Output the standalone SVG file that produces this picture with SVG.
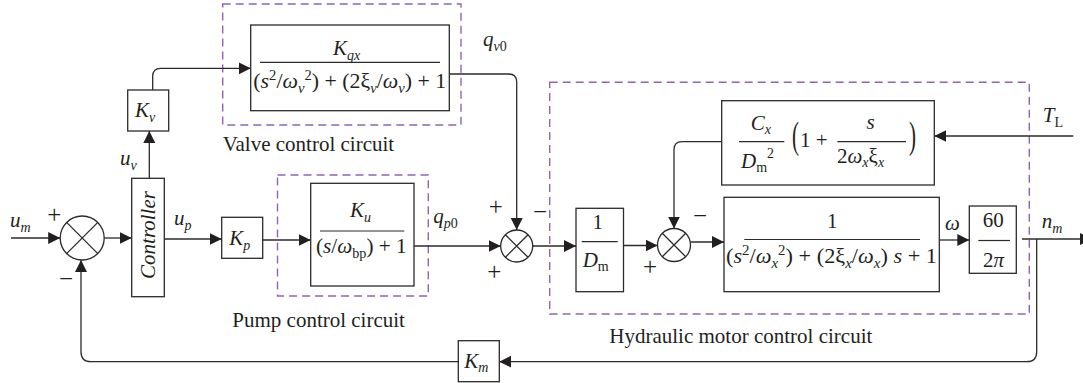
<svg xmlns="http://www.w3.org/2000/svg" width="1083" height="383" viewBox="0 0 1083 383">
<style>
.bx{fill:#fff;stroke:#2b2b2b;stroke-width:1.3}
.ds{fill:none;stroke:#8f64b8;stroke-width:1.4;stroke-dasharray:8 5}
.ln{fill:none;stroke:#2b2b2b;stroke-width:1.3}
.ar{fill:none;stroke:#2b2b2b;stroke-width:1.3;marker-end:url(#ah)}
.fl{stroke:#2b2b2b;stroke-width:1.2}
.t{font-family:"Liberation Serif",serif;font-size:21px;fill:#231f20}
.i{font-style:italic}
.sb,.sp{font-size:14px}
.pm{font-family:"Liberation Serif",serif;font-size:25px;fill:#231f20;text-anchor:middle}
.c{text-anchor:middle}
</style>
<defs>
<marker id="ah" markerUnits="userSpaceOnUse" markerWidth="13" markerHeight="13" refX="12" refY="6" orient="auto"><path d="M0,0 L12,6 L0,12 z" fill="#231f20"/></marker>
</defs>

<g id="regions">
<rect class="ds" x="222.7" y="4" width="238.3" height="121"/>
<rect class="ds" x="277.5" y="175" width="150.8" height="121"/>
<rect class="ds" x="549.7" y="82.3" width="479.6" height="231.7"/>
<text class="t" x="222.7" y="150.7">Valve control circuit</text>
<text class="t" x="232.3" y="326.7">Pump control circuit</text>
<text class="t" x="609.3" y="342.6">Hydraulic motor control circuit</text>
</g>

<g id="connectors">
<path class="ar" d="M11,238 H60.2"/>
<path class="ar" d="M104.2,238 H131.7"/>
<path class="ar" d="M149.3,178.3 V131"/>
<path class="ar" d="M152.7,90 V76.3 Q152.7,68.3 160.7,68.3 H250.7"/>
<path class="ar" d="M164.3,239 H221.7"/>
<path class="ar" d="M262.7,240 H310.7"/>
<path class="ar" d="M414,246 H500.7"/>
<path class="ar" d="M449.3,74 H508.7 Q516.7,74 516.7,82 V230"/>
<path class="ar" d="M532.7,246 H576"/>
<path class="ar" d="M623.5,245.5 H657.5"/>
<path class="ar" d="M690.5,242 H724"/>
<path class="ar" d="M721.7,141.7 H682 Q674,141.7 674,149.7 V228.5"/>
<path class="ar" d="M1073.3,136 H934.3"/>
<path class="ar" d="M939.3,240 H969.3"/>
<path class="ar" d="M1022,239 H1092"/>
<path class="ar" d="M1036.7,239 V351.7 Q1036.7,361.7 1026.7,361.7 H499.3"/>
<path class="ar" d="M458.3,361.7 H91 Q81,361.7 81,351.7 V260"/>
</g>

<g id="labels">
<text class="t" x="10" y="226.7"><tspan class="i">u</tspan><tspan class="sb i" dy="5">m</tspan></text>
<text class="t" x="120" y="165"><tspan class="i">u</tspan><tspan class="sb i" dy="5">v</tspan></text>
<text class="t" x="174" y="225"><tspan class="i">u</tspan><tspan class="sb i" dy="5">p</tspan></text>
<text class="t" x="433.3" y="223.3"><tspan class="i">q</tspan><tspan class="sb i" dy="5">p</tspan><tspan class="sb">0</tspan></text>
<text class="t" x="483" y="46"><tspan class="i">q</tspan><tspan class="sb i" dy="5">v</tspan><tspan class="sb">0</tspan></text>
<text class="t" x="945" y="230"><tspan class="i">ω</tspan></text>
<text class="t" x="1041.7" y="228.3"><tspan class="i">n</tspan><tspan class="sb i" dy="5">m</tspan></text>
<text class="t" x="1042.7" y="121.7"><tspan class="i">T</tspan><tspan class="sb" dy="5">L</tspan></text>
<text class="pm" x="54.3" y="222.5">+</text>
<text class="pm" x="66" y="287">−</text>
<text class="pm" x="495.7" y="214.5">+</text>
<text class="pm" x="494.3" y="280">+</text>
<text class="pm" x="540" y="220">−</text>
<text class="pm" x="650" y="275">+</text>
<text class="pm" x="700" y="224">−</text>
</g>

<g id="sum1">
<circle class="bx" cx="82.2" cy="238" r="22"/>
<path class="ln" d="M66.6,222.4 L97.8,253.6 M66.6,253.6 L97.8,222.4"/>
</g>

<g id="controller">
<rect class="bx" x="131.7" y="178.3" width="32.6" height="118.4"/>
<text class="t i c" transform="translate(155,235) rotate(-90)">Controller</text>
</g>

<g id="Kv">
<rect class="bx" x="127.7" y="90" width="41" height="41"/>
<text class="t" x="135" y="116.7"><tspan class="i">K</tspan><tspan class="sb i" dy="5">v</tspan></text>
</g>

<g id="Kp">
<rect class="bx" x="221.7" y="217.3" width="41" height="41"/>
<text class="t" x="229.3" y="245"><tspan class="i">K</tspan><tspan class="sb i" dy="5">p</tspan></text>
</g>

<g id="valve">
<rect class="bx" x="250.7" y="25" width="198.6" height="85.7"/>
<text class="t" x="333" y="55"><tspan class="i">K</tspan><tspan class="sb i" dy="5">qx</tspan></text>
<line class="fl" x1="260" y1="62.3" x2="440" y2="62.3"/>
<text class="t" x="253.3" y="88" textLength="193" lengthAdjust="spacingAndGlyphs">(<tspan class="i">s</tspan><tspan class="sp" dy="-8">2</tspan><tspan dy="8">/</tspan><tspan class="i">ω</tspan><tspan class="sb i" dy="5">v</tspan><tspan class="sp" dy="-13">2</tspan><tspan dy="8">) + (2ξ</tspan><tspan class="sb i" dy="5">v</tspan><tspan dy="-5">/</tspan><tspan class="i">ω</tspan><tspan class="sb i" dy="5">v</tspan><tspan dy="-5">) + 1</tspan></text>
</g>

<g id="pump">
<rect class="bx" x="310.7" y="183.3" width="103.3" height="102.7"/>
<text class="t" x="350" y="216.7"><tspan class="i">K</tspan><tspan class="sb i" dy="5">u</tspan></text>
<line class="fl" x1="320" y1="231" x2="404.3" y2="231"/>
<text class="t" x="316" y="253.3" textLength="90.7" lengthAdjust="spacingAndGlyphs">(<tspan class="i">s</tspan>/<tspan class="i">ω</tspan><tspan class="sb" dy="5">bp</tspan><tspan dy="-5">) + 1</tspan></text>
</g>

<g id="sum2">
<circle class="bx" cx="516.7" cy="246" r="16"/>
<path class="ln" d="M505.4,234.7 L528,257.3 M505.4,257.3 L528,234.7"/>
</g>

<g id="Dm">
<rect class="bx" x="576" y="208.3" width="47.5" height="83.4"/>
<text class="t c" x="597.7" y="229">1</text>
<line class="fl" x1="581.7" y1="241.7" x2="617.7" y2="241.7"/>
<text class="t" x="582.7" y="267"><tspan class="i">D</tspan><tspan class="sb" dy="4">m</tspan></text>
</g>

<g id="sum3">
<circle class="bx" cx="674" cy="245" r="16.5"/>
<path class="ln" d="M662.3,233.3 L685.7,256.7 M662.3,256.7 L685.7,233.3"/>
</g>

<g id="Cx">
<rect class="bx" x="721.7" y="100.7" width="212.6" height="84.3"/>
<text class="t" x="750.7" y="130"><tspan class="i">C</tspan><tspan class="sb i" dy="4">x</tspan></text>
<line class="fl" x1="739" y1="141.7" x2="784.3" y2="141.7"/>
<text class="t" x="741" y="168.3"><tspan class="i">D</tspan><tspan class="sb" dy="4">m</tspan><tspan class="sp" dy="-14">2</tspan></text>
<text class="t" transform="translate(792,148) scale(1,1.8)">(</text>
<text class="t" x="800" y="147">1 +</text>
<text class="t i c" x="870.7" y="129">s</text>
<line class="fl" x1="837.3" y1="141.7" x2="906" y2="141.7"/>
<text class="t" x="837" y="163">2<tspan class="i">ω</tspan><tspan class="sb i" dy="4">x</tspan><tspan dy="-4">ξ</tspan><tspan class="sb i" dy="4">x</tspan></text>
<text class="t" transform="translate(909,148) scale(1,1.8)">)</text>
</g>

<g id="motor">
<rect class="bx" x="724" y="197.3" width="215.3" height="94.4"/>
<text class="t c" x="832.3" y="228.3">1</text>
<line class="fl" x1="744.3" y1="239.5" x2="920" y2="239.5"/>
<text class="t" x="726" y="263" textLength="211" lengthAdjust="spacingAndGlyphs">(<tspan class="i">s</tspan><tspan class="sp" dy="-8">2</tspan><tspan dy="8">/</tspan><tspan class="i">ω</tspan><tspan class="sb i" dy="5">x</tspan><tspan class="sp" dy="-13">2</tspan><tspan dy="8">) + (2ξ</tspan><tspan class="sb i" dy="5">x</tspan><tspan dy="-5">/</tspan><tspan class="i">ω</tspan><tspan class="sb i" dy="5">x</tspan><tspan dy="-5">) </tspan><tspan class="i">s</tspan> + 1</text>
</g>

<g id="gain60">
<rect class="bx" x="969.3" y="206" width="47" height="67.3"/>
<text class="t c" x="993.3" y="226.7">60</text>
<line class="fl" x1="978.3" y1="240.5" x2="1010" y2="240.5"/>
<text class="t c" x="993.5" y="266.5">2<tspan class="i">π</tspan></text>
</g>

<g id="Km">
<rect class="bx" x="458.3" y="340.7" width="41" height="41"/>
<text class="t" x="464.3" y="368.3"><tspan class="i">K</tspan><tspan class="sb i" dy="4">m</tspan></text>
</g>
</svg>
